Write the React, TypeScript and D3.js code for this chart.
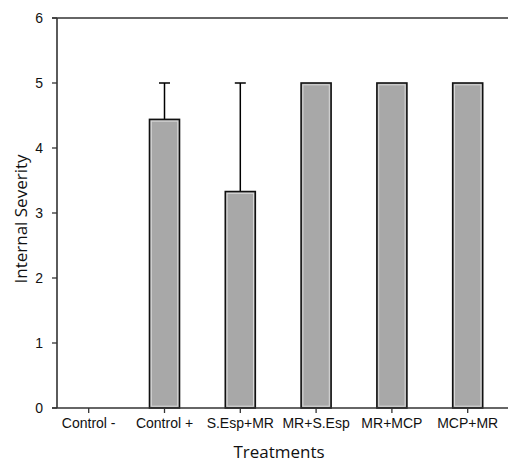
import React from "react";
import * as d3 from "d3";

const categories = ["Control -", "Control +", "S.Esp+MR", "MR+S.Esp", "MR+MCP", "MCP+MR"];
const values = [0, 4.44, 3.33, 5, 5, 5];
const errors = [0, 0.56, 1.67, 0, 0, 0];
const yTicks = [0, 1, 2, 3, 4, 5, 6];

export default function App() {
  const W = 508, H = 465;
  const axisX = 57, plotTop = 18, plotBottom = 408, plotRight = 508;
  const y = d3.scaleLinear().domain([0, 6]).range([plotBottom, plotTop]);
  const x = d3.scaleBand<string>().domain(categories).range([50.8, 505.6]).padding(0);
  const bw = 30;
  const font = "'Liberation Sans', Arial, sans-serif";
  return (
    <svg width={W} height={H} style={{ position: "absolute", left: 0, top: 0, background: "#fff" }}>
      {categories.map((c, i) => {
        const cx = x(c)! + x.bandwidth() / 2;
        if (values[i] <= 0) return null;
        const top = y(values[i]);
        return (
          <g key={c}>
            {errors[i] > 0 && (
              <g stroke="#000" strokeWidth={1.5}>
                <line x1={cx} x2={cx} y1={top} y2={y(values[i] + errors[i])} />
                <line x1={cx - 5.5} x2={cx + 5.5} y1={y(values[i] + errors[i])} y2={y(values[i] + errors[i])} />
              </g>
            )}
            <rect x={cx - bw / 2} y={top} width={bw} height={plotBottom - top} fill="#a8a8a8" stroke="#111" strokeWidth={1.6} />
            <rect x={cx - bw / 2 + 1.8} y={top + 1.8} width={bw - 3.6} height={plotBottom - top - 3.6} fill="none" stroke="#d8d8d8" strokeWidth={1} />
          </g>
        );
      })}
      <line x1={axisX} x2={axisX} y1={plotTop} y2={plotBottom} stroke="#333" strokeWidth={1.6} />
      <line x1={axisX - 5} x2={plotRight} y1={plotTop} y2={plotTop} stroke="#333" strokeWidth={1.6} />
      <line x1={axisX - 5} x2={plotRight} y1={plotBottom} y2={plotBottom} stroke="#333" strokeWidth={1.6} />
      {yTicks.map((t) => (
        <g key={t}>
          <line x1={axisX - 5} x2={axisX} y1={y(t)} y2={y(t)} stroke="#333" strokeWidth={1.3} />
          <text x={43} y={y(t)} dy="0.36em" textAnchor="end" fontFamily={font} fontSize={14} fill="#111">{t}</text>
        </g>
      ))}
      {categories.map((c) => {
        const cx = x(c)! + x.bandwidth() / 2;
        return (
          <g key={c}>
            <line x1={cx} x2={cx} y1={plotBottom} y2={plotBottom + 5} stroke="#333" strokeWidth={1.3} />
            <text x={cx} y={428} textAnchor="middle" fontFamily={font} fontSize={14} fill="#111">{c}</text>
          </g>
        );
      })}
      <text x={279} y={458} textAnchor="middle" fontFamily="'Open Sans', sans-serif" fontSize={17} fill="#111">Treatments</text>
      <text transform={`translate(27,219) rotate(-90)`} textAnchor="middle" fontFamily="'Open Sans', sans-serif" fontSize={17} fill="#111">Internal Severity</text>
    </svg>
  );
}
